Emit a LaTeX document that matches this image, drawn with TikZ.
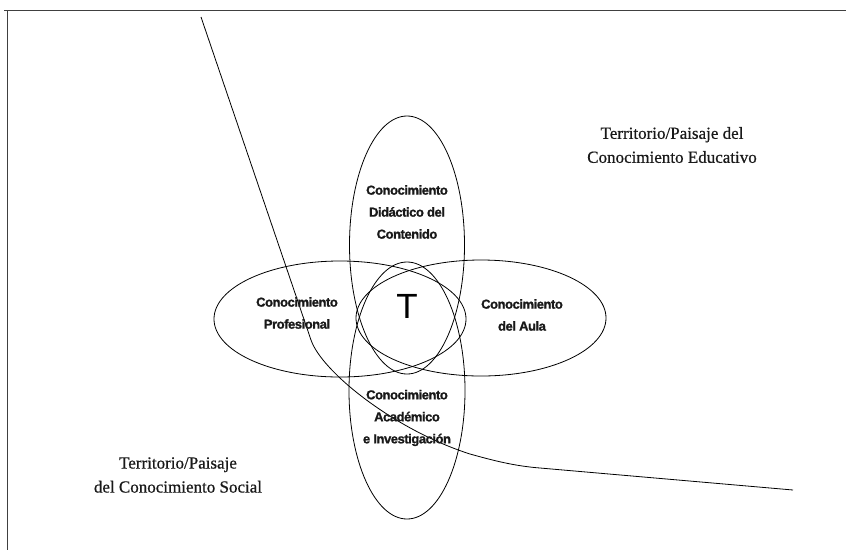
\documentclass[tikz,border=0pt]{standalone}
\usepackage{fontspec}
\setmainfont{Liberation Serif}
\setsansfont{Liberation Sans}
\newfontfamily\labelfont[LetterSpace=-3.5,FakeBold=1.2]{Liberation Sans Bold}
\newfontfamily\landfont[FakeBold=0.6]{Liberation Serif}
\usetikzlibrary{shapes.geometric}
\begin{document}
\begin{tikzpicture}[x=1pt,y=-1pt,
  frameline/.style={draw=black!75, line width=1pt},
  ring/.style={draw=black, line width=0.8pt},
  border/.style={draw=black, line width=0.8pt},
  knowlabel/.style={font=\labelfont\fontsize{13}{22}\selectfont, align=center, text=black!90, inner sep=0pt},
  landlabel/.style={font=\landfont\fontsize{17}{24}\selectfont, align=center, text=black!90, inner sep=0pt},
  bigT/.style={font=\sffamily\fontsize{35}{40}\selectfont, inner sep=0pt}
]
\useasboundingbox (0,0) rectangle (846,550);
% frame
\coordinate (ftl) at (4,10);
\coordinate (ftr) at (846,10);
\coordinate (fl) at (7,10);
\coordinate (fb) at (7,550);
\draw[frameline] (ftl) -- (ftr);
\draw[frameline] (fl) -- (fb);

% ellipses
\draw[ring] (407,245) ellipse [x radius=57.5pt, y radius=129pt];
\draw[ring] (407,390.5) ellipse [x radius=58pt, y radius=128.5pt];
\draw[ring] (340,319) ellipse [x radius=126pt, y radius=58pt];
\draw[ring] (481,318) ellipse [x radius=125pt, y radius=58pt];

% boundary curve
\coordinate (c0) at (201,17);
\coordinate (c1) at (311,340);
\coordinate (c2) at (470,454);
\coordinate (c3) at (540,468);
\coordinate (c4) at (793,490);
\draw[border] (c0) -- (c1) .. controls (322,372) and (395,430) .. (c2)
  .. controls (495,461) and (515,466) .. (c3) -- (c4);

% labels
\node[knowlabel] (cdc) at (407,212) {Conocimiento\\Didáctico del\\Contenido};
\node[knowlabel] (prof) at (297,313) {Conocimiento\\Profesional};
\node[knowlabel] (aula) at (522,315) {Conocimiento\\del Aula};
\node[knowlabel] (acad) at (407,418) {Conocimiento\\Académico\\e Investigación};
\node[bigT] (t) at (407,306) {T};
\node[landlabel] (edu) at (672,145) {Territorio/Paisaje del\\Conocimiento Educativo};
\node[landlabel] (soc) at (178,475) {Territorio/Paisaje\\del Conocimiento Social};
\end{tikzpicture}
\end{document}
